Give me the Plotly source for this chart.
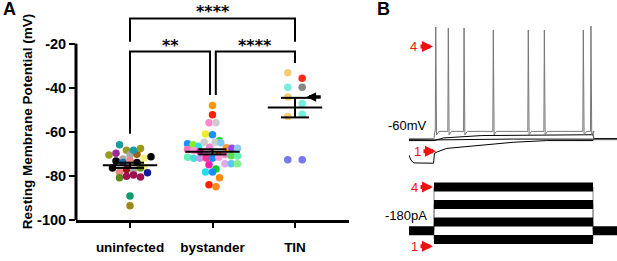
import plotly.graph_objects as go

# ---------------- Panel A data ----------------
categories = ["uninfected", "bystander", "TIN"]

uninfected_mv = [-65.9, -70.5, -69.7, -68.4, -72.3, -70.5, -70.2, -68.4, -67.6,
                 -73.2, -76.4, -73.9, -73.1, -73.9, -72.0, -71.3,
                 -78.3, -77.1, -77.9, -76.1, -76.4,
                 -80.8, -80.1, -79.6, -80.5, -78.6, -89.1, -93.5]
uninfected_colors = ["#1b9aa0", "#9a9a1e", "#9a2a96", "#9a9a2a", "#aaaaaa", "#aaaaaa", "#a0620c", "#1a9aaa", "#9a9a1a",
                     "#000000", "#000000", "#1a6aaa", "#f08585", "#000000", "#f2f07e", "#000000",
                     "#f08585", "#a01212", "#aaaaaa", "#f2f07e", "#6a9a1a",
                     "#5a8a1a", "#a01050", "#a01050", "#a01050", "#121a9a", "#109a6a", "#9a8a1a"]

bystander_mv = [-48.1, -52.2, -55.9, -55.9, -61.0, -61.3,
                -65.4, -65.9, -64.0, -66.5, -64.7, -67.0, -64.7, -65.0,
                -67.2, -67.5, -67.5, -68.0, -68.5, -69.0,
                -70.0, -71.5, -72.0, -71.0, -72.0, -70.5, -71.9, -72.0, -70.3, -70.8,
                -71.0, -71.5, -74.9, -74.5, -74.5, -74.5,
                -76.8, -78.2, -78.2, -80.8, -84.0, -84.9]
bystander_colors = ["#ff9900", "#ff2200", "#ff88cc", "#cccccc", "#eeee22", "#1e90ff",
                    "#1e90ff", "#88ee22", "#22dd22", "#33ddee", "#cccccc", "#ee88cc", "#cccccc", "#77ccff",
                    "#ff9933", "#9944ee", "#88ccee", "#ff77bb", "#ff99cc", "#ee22aa",
                    "#ee88dd", "#66eebb", "#44dddd", "#99ee99", "#cc99ee", "#ff3300", "#ff3399", "#2288ff", "#ff88cc", "#55dd55",
                    "#66eeaa", "#ff99dd", "#ee22aa", "#ddaaee", "#55ccee", "#88ee88",
                    "#11cc33", "#22ddee", "#1e88ff", "#ff8811", "#ff2200", "#ff8822"]

tin_mv = [-33.2, -35.7, -39.8, -39.8, -44.2, -47.1, -53.0, -52.0, -72.7, -72.7]
tin_colors = ["#f8cc77", "#ff2a1a", "#77eedd", "#888888", "#f8c877", "#77eedd", "#f8cc77", "#77eedd", "#7777ee", "#7777ee"]

y_ticks = [-100, -80, -60, -40, -20]
y_tick_labels = ["-100", "-80", "-60", "-40", "-20"]

# comparisons: (group a, group b, label)
comparisons = [(0, 2, "****"), (0, 1, "**"), (1, 2, "****")]

# ---------------- Panel B data ----------------
step_on_ms, step_off_ms = 0, 1000
spike_times_ms = [11, 90, 189, 373, 593, 694, 939, 987]
spike_peaks_mv = [19.9, 19.2, 19.2, 17.8, 17.8, 17.8, 17.8, 20.6]
trace4_plateau_mv = -54.8

trace1_t = [-157, -145, -125, -3, 3, 20, 80, 289, 499, 709, 1000, 1004, 1151]
trace1_v = [-71.8, -75.5, -77.4, -77.6, -70.5, -69.5, -67.0, -64.9, -62.6, -61.4, -61.4, -60.7, -60.7]
trace2_t = [-157, 0, 10, 500, 1000, 1005, 1151]
trace2_v = [-60.7, -60.7, -60.9, -60.3, -60.3, -60.4, -60.4]
trace3_t = [-157, 0, 60, 300, 1000, 1005, 1151]
trace3_v = [-61.4, -61.4, -59.5, -57.8, -57.2, -59.9, -59.9]
trace4_base_mv = -60.0

holding_pa = -180
step_levels_pa = [-200, -160, -120, -80]

# ---------------- layout constants ----------------
W, H = 617, 261
PX_PER_UNIT = 82.5
PX_PER_MV = 2.275
DOT_PX = 7.5
ROW_MV = 7.0 / PX_PER_MV
COL_PX = [7.0, 7.0, 14.4]
MAX_HALF_PX = 25.0
FONT = "Liberation Sans"


def swarm(vals, col_px):
    order = sorted(range(len(vals)), key=lambda i: -vals[i])
    rows, cur = [], []
    for i in order:
        if cur and vals[cur[0]] - vals[i] >= ROW_MV:
            rows.append(cur)
            cur = []
        cur.append(i)
    if cur:
        rows.append(cur)
    offs = [0.0] * len(vals)
    for r in rows:
        r = sorted(r)
        n = len(r)
        step = col_px if n < 2 else min(col_px, 2 * MAX_HALF_PX / (n - 1))
        for k, i in enumerate(r):
            offs[i] = (k - (n - 1) / 2) * step / PX_PER_UNIT
    return offs


def px_to_mv(py):
    return -20 - (py - 45) / PX_PER_MV


fig = go.Figure()
groups = [(uninfected_mv, uninfected_colors), (bystander_mv, bystander_colors), (tin_mv, tin_colors)]
for g, (vals, cols) in enumerate(groups):
    offs = swarm(vals, COL_PX[g])
    fig.add_trace(go.Scatter(x=[g + o for o in offs], y=vals, mode="markers",
                             marker=dict(size=DOT_PX, color=cols, line=dict(width=0)),
                             xaxis="x", yaxis="y", hoverinfo="skip"))
for g, (vals, cols) in enumerate(groups):
    n = len(vals)
    m = sum(vals) / n
    sd = (sum((v - m) ** 2 for v in vals) / (n - 1)) ** 0.5
    se = sd / n ** 0.5
    lw = dict(color="black", width=2)
    fig.add_trace(go.Scatter(x=[g - 0.33, g + 0.33], y=[m, m], mode="lines", line=lw, xaxis="x", yaxis="y", hoverinfo="skip"))
    for yy in (m - se, m + se):
        fig.add_trace(go.Scatter(x=[g - 0.17, g + 0.17], y=[yy, yy], mode="lines", line=lw, xaxis="x", yaxis="y", hoverinfo="skip"))
    fig.add_trace(go.Scatter(x=[g, g], y=[m - se, m + se], mode="lines", line=lw, xaxis="x", yaxis="y", hoverinfo="skip"))

# significance brackets
bracket_specs = {
    (0, 2): dict(x0=0.0, x1=2.0, top=px_to_mv(19), l=px_to_mv(43), r=px_to_mv(43), ty=px_to_mv(12)),
    (0, 1): dict(x0=0.0, x1=0.97, top=px_to_mv(53), l=px_to_mv(138), r=px_to_mv(98), ty=px_to_mv(47)),
    (1, 2): dict(x0=1.04, x1=2.0, top=px_to_mv(53), l=px_to_mv(98), r=px_to_mv(65), ty=px_to_mv(47)),
}
shapes = []
annotations = []
for a, b, lab in comparisons:
    s = bracket_specs[(a, b)]
    shapes.append(dict(type="path", xref="x", yref="y",
                       path=f"M{s['x0']},{s['l']} L{s['x0']},{s['top']} L{s['x1']},{s['top']} L{s['x1']},{s['r']}",
                       line=dict(color="black", width=2)))
    annotations.append(dict(x=(s['x0'] + s['x1']) / 2, y=s['ty'], xref="x", yref="y", text=lab, showarrow=False,
                            font=dict(family="DejaVu Sans", size=16, weight="bold", color="black"),
                            xanchor="center", yanchor="middle"))
# y axis line from -100 to -20
shapes.append(dict(type="line", xref="x domain", yref="y", x0=0, x1=0, y0=-100, y1=-20,
                   line=dict(color="black", width=3)))
# black arrow at TIN
annotations.append(dict(x=2.139, y=-44.2, ax=2.33, ay=-44.2, xref="x", yref="y", axref="x", ayref="y",
                        text="", showarrow=True, arrowhead=2, arrowsize=0.55, arrowwidth=3.5, arrowcolor="black"))

# ---------------- Panel B traces ----------------
def add_v(t, v, color="black", width=1):
    fig.add_trace(go.Scatter(x=t, y=v, mode="lines", line=dict(color=color, width=width),
                             xaxis="x2", yaxis="y2", hoverinfo="skip"))

add_v(trace1_t, trace1_v)
add_v(trace2_t, trace2_v)
add_v(trace3_t, trace3_v)
t4 = [-157, step_on_ms, spike_times_ms[0] - 6]
v4 = [trace4_base_mv, trace4_base_mv, trace4_plateau_mv]
for ts, pk in zip(spike_times_ms, spike_peaks_mv):
    t4 += [ts - 3, ts, ts + 5, ts + 20]
    v4 += [trace4_plateau_mv, pk, trace4_plateau_mv - 2.5, trace4_plateau_mv]
t4 += [step_off_ms, step_off_ms + 6, 1151]
v4 += [trace4_plateau_mv, trace4_base_mv - 0.5, trace4_base_mv - 0.5]
add_v(t4, v4, color="#777777", width=1)

for lvl in step_levels_pa:
    fig.add_trace(go.Scatter(x=[-157, step_on_ms, step_on_ms, step_off_ms, step_off_ms, 1151],
                             y=[holding_pa, holding_pa, lvl, lvl, holding_pa, holding_pa],
                             mode="lines", line=dict(color="#888888", width=1), xaxis="x3", yaxis="y3", hoverinfo="skip"))
for xs in ([-157, step_on_ms], [step_off_ms, 1151]):
    fig.add_trace(go.Scatter(x=xs, y=[holding_pa, holding_pa], mode="lines", line=dict(color="black", width=9),
                             xaxis="x3", yaxis="y3", hoverinfo="skip"))
for lvl in step_levels_pa:
    fig.add_trace(go.Scatter(x=[step_on_ms, step_off_ms], y=[lvl, lvl], mode="lines", line=dict(color="black", width=9),
                             xaxis="x3", yaxis="y3", hoverinfo="skip"))


def P(px, py):
    return px / W, 1 - py / H


# text labels
for txt, px, py, size in [("A", 1, 9, 18), ("B", 375, 9, 18)]:
    x, y = P(px, py)
    annotations.append(dict(x=x, y=y, xref="paper", yref="paper", text=txt, showarrow=False,
                            xanchor="left", yanchor="middle",
                            font=dict(family=FONT, size=size, weight="bold", color="black")))
x, y = P(27, 126)
annotations.append(dict(x=x, y=y, xref="paper", yref="paper", text="Resting Membrane Potential (mV)",
                        textangle=-90, showarrow=False, xanchor="center", yanchor="middle",
                        font=dict(family=FONT, size=13.5, weight="bold", color="black")))
for txt, px, py in [("-60mV", 429, 129), ("-180pA", 429, 222)]:
    x, y = P(px, py)
    annotations.append(dict(x=x, y=y, xref="paper", yref="paper", text=txt, showarrow=False,
                            xanchor="right", yanchor="middle", font=dict(family=FONT, size=13, color="black")))
# red arrows with numbers: (label, label x, y, arrow tail x, arrow head x)
for txt, tx, ty, ax0, hx in [("4", 413.5, 48, 419, 433), ("1", 417.5, 156, 422, 436),
                             ("4", 414, 193, 419, 433), ("1", 414.5, 254, 419, 433)]:
    x, y = P(tx, ty)
    annotations.append(dict(x=x, y=y, xref="paper", yref="paper", text=txt, showarrow=False,
                            xanchor="center", yanchor="middle",
                            font=dict(family=FONT, size=13, color="#ee1111")))
    x, y = P(hx, ty)
    annotations.append(dict(x=x, y=y, xref="paper", yref="paper", text="", showarrow=True,
                            ax=ax0 - hx, ay=0, arrowhead=2, arrowsize=0.55, arrowwidth=4, arrowcolor="#ee1111",
                            standoff=0, startstandoff=0))

xa0, xa1 = 76 / W, 349 / W
fig.update_layout(
    width=W, height=H, margin=dict(l=0, r=0, t=0, b=0),
    paper_bgcolor="white", plot_bgcolor="white", showlegend=False,
    xaxis=dict(domain=[xa0, xa1], range=[-54 / PX_PER_UNIT, 2 + 54 / PX_PER_UNIT],
               tickvals=[0, 1, 2], ticktext=categories, showline=True, linewidth=3, linecolor="black",
               ticks="outside", ticklen=5, tickwidth=2, tickcolor="black", showgrid=False, zeroline=False,
               ticklabelstandoff=8,
               tickfont=dict(family=FONT, size=13.5, weight="bold", color="black"), fixedrange=True),
    yaxis=dict(domain=[34 / H, 1], range=[-100, -100 + 80 * 227 / 182], tickvals=y_ticks, ticktext=y_tick_labels,
               showline=False, ticks="outside", ticklen=6, tickwidth=2, tickcolor="black", showgrid=False,
               zeroline=False, tickfont=dict(family=FONT, size=14.5, weight="bold", color="black"), fixedrange=True),
    xaxis2=dict(domain=[409 / W, 1], range=[-157.2, 1150.9], visible=False, anchor="y2"),
    yaxis2=dict(domain=[1 - 175 / H, 1 - 20 / H], range=[-82.2, 25.4], visible=False, anchor="x2"),
    xaxis3=dict(domain=[409 / W, 1], range=[-157.2, 1150.9], visible=False, anchor="y3"),
    yaxis3=dict(domain=[0, 1 - 180 / H], range=[-231.1, -51.1], visible=False, anchor="x3"),
    shapes=shapes, annotations=annotations,
)
fig.write_html("out.html", config={"displayModeBar": False},
               post_script="document.body.style.margin='0';document.body.style.padding='0';")
